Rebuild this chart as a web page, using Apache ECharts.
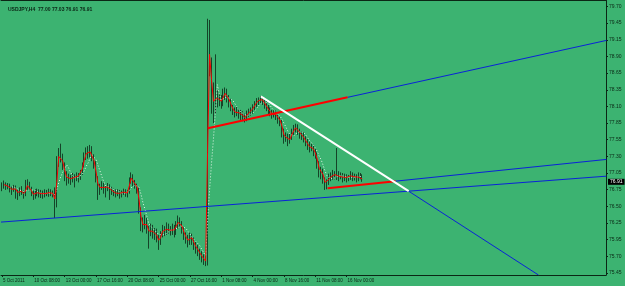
<!DOCTYPE html>
<html><head><meta charset="utf-8">
<script src="https://cdn.jsdelivr.net/npm/echarts@6/dist/echarts.min.js"></script>
<style>html,body{margin:0;padding:0;background:#3cb371;}#c{width:625px;height:286px;}</style>
</head><body><div id="c"></div>
<script>
// ---- data ----
const symbolTitle = "USDJPY,H4";
const barCount = 309; // bar slots across the chart (incl. empty future space)
const xTickLabels = ["5 Oct 2011","10 Oct 08:00","13 Oct 00:00","17 Oct 16:00","20 Oct 08:00","25 Oct 00:00","27 Oct 16:00","1 Nov 08:00","4 Nov 00:00","8 Nov 16:00","11 Nov 08:00","16 Nov 00:00"];
const xTickEvery = 16;
const yTickValues = [75.45,75.717,75.983,76.25,76.517,76.783,77.05,77.317,77.583,77.85,78.117,78.383,78.65,78.917,79.183,79.45,79.717];
const yTickLabels = ["75.45","75.70","75.95","76.25","76.50","76.75","77.05","77.30","77.55","77.85","78.10","78.35","78.65","78.90","79.15","79.45","79.70"];
// [open, close, low, high]
const ohlc = [
[76.82,76.85,76.76,76.90],[76.85,76.88,76.80,76.93],[76.88,76.82,76.78,76.90],[76.82,76.86,76.79,76.89],[76.86,76.80,76.74,76.88],
[76.80,76.78,76.70,76.84],[76.78,76.83,76.75,76.86],[76.83,76.76,76.64,76.85],[76.76,76.72,76.62,76.79],[76.72,76.78,76.68,76.82],
[76.78,76.74,76.70,76.84],[76.74,76.70,76.64,76.77],[76.70,76.82,76.68,76.94],[76.82,76.88,76.78,76.95],[76.88,76.80,76.76,76.91],
[76.80,76.74,76.68,76.83],[76.74,76.68,76.62,76.77],[76.68,76.72,76.64,76.79],[76.72,76.75,76.68,76.80],[76.75,76.71,76.66,76.79],
[76.71,76.73,76.65,76.78],[76.73,76.70,76.64,76.77],[76.70,76.74,76.66,76.79],[76.74,76.72,76.68,76.78],[76.72,76.75,76.67,76.80],
[76.75,76.73,76.68,76.79],[76.73,76.72,76.66,76.77],[76.72,76.55,76.33,76.82],[76.55,77.25,76.50,77.32],[77.25,77.38,77.15,77.45],
[77.38,77.30,77.22,77.52],[77.30,77.18,77.10,77.36],[77.18,77.02,76.92,77.22],[77.02,76.95,76.85,77.08],[76.95,76.98,76.88,77.04],
[76.98,76.94,76.86,77.02],[76.94,77.00,76.90,77.05],[77.00,76.96,76.82,77.03],[76.96,77.02,76.92,77.06],[77.02,76.98,76.90,77.05],
[76.98,77.05,76.94,77.10],[77.05,77.18,77.02,77.22],[77.18,77.32,77.14,77.38],[77.32,77.40,77.26,77.46],[77.40,77.34,77.28,77.48],
[77.34,77.44,77.30,77.50],[77.44,77.30,77.24,77.48],[77.30,77.20,77.12,77.35],[77.20,76.96,76.90,77.24],[76.96,76.80,76.62,77.00],
[76.80,76.84,76.70,76.88],[76.84,76.86,76.78,76.92],[76.86,76.78,76.72,76.90],[76.78,76.81,76.66,76.86],[76.81,76.84,76.76,76.89],
[76.84,76.79,76.62,76.87],[76.79,76.76,76.70,76.83],[76.76,76.74,76.68,76.80],[76.74,76.72,76.66,76.79],[76.72,76.75,76.68,76.79],
[76.75,76.70,76.64,76.78],[76.70,76.73,76.66,76.77],[76.73,76.76,76.70,76.80],[76.76,76.72,76.67,76.79],[76.72,76.74,76.66,76.78],
[76.74,76.94,76.72,76.98],[76.94,77.00,76.88,77.06],[77.00,76.90,76.84,77.03],[76.90,76.85,76.80,76.94],[76.85,76.80,76.72,76.88],
[76.80,76.45,76.40,76.82],[76.45,76.25,76.12,76.50],[76.25,76.20,76.10,76.34],[76.20,76.30,76.15,76.38],[76.30,76.15,76.08,76.33],
[76.15,76.10,75.84,76.20],[76.10,76.18,76.04,76.24],[76.18,76.05,76.00,76.22],[76.05,76.12,75.98,76.17],[76.12,76.00,75.94,76.16],
[76.00,75.95,75.82,76.06],[75.95,76.08,75.90,76.12],[76.08,76.15,76.02,76.22],[76.15,76.10,76.04,76.20],[76.10,76.20,76.06,76.26],
[76.20,76.15,76.08,76.24],[76.15,76.12,76.05,76.20],[76.12,76.18,76.06,76.24],[76.18,76.10,76.02,76.22],[76.10,76.22,76.06,76.28],
[76.22,76.30,76.16,76.37],[76.30,76.25,76.18,76.34],[76.25,76.15,76.08,76.28],[76.15,76.05,75.98,76.18],[76.05,76.00,75.92,76.10],
[76.00,75.95,75.86,76.06],[75.95,76.05,75.90,76.10],[76.05,75.98,75.90,76.08],[75.98,75.90,75.82,76.02],[75.90,75.85,75.76,75.95],
[75.85,75.80,75.72,75.90],[75.80,75.75,75.66,75.84],[75.75,75.70,75.62,75.80],[75.70,75.66,75.58,75.75],[75.66,75.62,75.56,75.72],
[75.62,79.15,75.57,79.52],[79.15,78.75,78.60,79.50],[78.75,78.35,78.00,78.90],[78.35,78.05,77.85,78.50],[78.05,78.30,78.00,78.95],
[78.30,78.20,78.10,78.38],[78.20,78.25,78.12,78.32],[78.25,78.15,78.08,78.30],[78.15,78.30,78.12,78.40],[78.30,78.35,78.22,78.42],
[78.35,78.25,78.18,78.40],[78.25,78.20,78.10,78.30],[78.20,78.10,78.04,78.24],[78.10,78.05,77.98,78.14],[78.05,78.00,77.94,78.10],
[78.00,78.05,77.96,78.12],[78.05,77.98,77.92,78.08],[77.98,78.00,77.90,78.06],[78.00,77.95,77.88,78.04],[77.95,77.92,77.86,78.00],
[77.92,78.00,77.88,78.05],[78.00,78.02,77.95,78.08],[78.02,78.05,77.97,78.10],[78.05,78.10,78.00,78.15],[78.10,78.15,78.05,78.20],
[78.15,78.20,78.10,78.25],[78.20,78.22,78.14,78.26],[78.22,78.25,78.16,78.28],[78.25,78.20,78.14,78.27],[78.20,78.15,78.08,78.24],
[78.15,78.10,78.04,78.20],[78.10,78.05,77.98,78.14],[78.05,78.02,77.96,78.10],[78.02,77.98,77.92,78.06],[77.98,78.02,77.94,78.06],
[78.02,77.95,77.90,78.05],[77.95,77.92,77.84,77.98],[77.92,77.88,77.80,77.95],[77.88,77.72,77.62,77.90],[77.72,77.60,77.52,77.76],
[77.60,77.65,77.55,77.70],[77.65,77.55,77.48,77.68],[77.55,77.62,77.52,77.68],[77.62,77.70,77.58,77.76],[77.70,77.75,77.65,77.82],
[77.75,77.80,77.70,77.84],[77.80,77.72,77.66,77.83],[77.72,77.68,77.60,77.76],[77.68,77.65,77.58,77.72],[77.65,77.60,77.54,77.70],
[77.60,77.55,77.48,77.64],[77.55,77.50,77.42,77.60],[77.50,77.45,77.38,77.55],[77.45,77.48,77.40,77.52],[77.48,77.40,77.32,77.50],
[77.40,77.35,77.28,77.44],[77.35,77.20,77.12,77.38],[77.20,77.05,76.98,77.24],[77.05,77.10,76.95,77.15],[77.10,76.95,76.88,77.12],
[76.95,76.85,76.78,76.98],[76.85,76.90,76.79,76.95],[76.90,77.00,76.86,77.04],[77.00,76.98,76.92,77.06],[76.98,77.05,76.94,77.10],
[77.05,77.00,76.95,77.08],[77.00,77.02,76.94,77.45],[77.02,76.98,76.92,77.08],[76.98,77.02,76.95,77.06],[77.02,76.95,76.90,77.05],
[76.95,77.00,76.92,77.04],[77.00,76.96,76.90,77.03],[76.96,76.98,76.92,77.02],[76.98,77.03,76.94,77.08],[77.03,76.98,76.92,77.06],
[76.98,77.00,76.93,77.04],[77.00,76.95,76.90,77.03],[76.95,77.02,76.92,77.06],[77.02,77.00,76.95,77.05],[77.00,76.91,76.91,77.03]
];
const fastMaPeriod = 2;
const slowMaPeriod = 6;
// trend lines: [barIndex, price] endpoints
const redUpper = [[105.1,77.767],[176.5,78.262]];
const blueUpper = [[176.5,78.262],[308.7,79.173]];
const redLower = [[166.3,76.808],[201.0,76.920]];
const blueLower = [[201.0,76.920],[308.7,77.268]];
const blueLong = [[-0.5,76.265],[308.7,77.000]];
const whiteDown = [[132.2,78.278],[207.7,76.760]];
const blueDown = [[207.7,76.760],[274.0,75.418]];

// ---- build ----
const categories = Array.from({length: barCount}, (_, i) =>
  (i % xTickEvery === 0 && xTickLabels[i / xTickEvery] !== undefined) ? xTickLabels[i / xTickEvery] : '');
const closes = ohlc.map(r => r[1]);
function sma(n) {
  return closes.map((c, i) => {
    if (i < n - 1) return '-';
    let s = 0; for (let k = i - n + 1; k <= i; k++) s += closes[k];
    return +(s / n).toFixed(4);
  });
}
const last = ohlc[ohlc.length - 1];
const titleText = symbolTitle + "  " + [last[0], last[3], last[2], last[1]].map(v => v.toFixed(2)).join(' ');

const dark = '#0b2615';
const font = 'Liberation Sans';
function tline(data, color, width, type) {
  return {type: 'line', xAxisIndex: 1, yAxisIndex: 0, data, symbol: 'none', silent: true,
    lineStyle: {color, width, type: type || 'solid'}, z: 5, animation: false};
}

const chart = echarts.init(document.getElementById('c'), null, {renderer: 'canvas'});
chart.setOption({
  backgroundColor: '#3cb371',
  animation: false,
  title: {text: titleText, left: 3, top: 2, textStyle: {fontFamily: font, fontSize: 5, fontWeight: 'bold', color: dark}},
  grid: {left: 0, right: 19, top: 0.5, bottom: 11, containLabel: false},
  xAxis: [{
    type: 'category', data: categories, boundaryGap: true, position: 'bottom',
    axisLine: {show: true, lineStyle: {color: dark, width: 1}},
    axisTick: {show: true, alignWithLabel: true, length: 2, interval: (i, v) => v !== '', lineStyle: {color: dark}},
    axisLabel: {show: true, interval: (i, v) => v !== '', align: 'left', margin: 3, fontFamily: font, fontSize: 4.5, color: dark, padding: [0,0,0,1]},
    splitLine: {show: false}
  }, {
    type: 'value', min: -0.5, max: barCount - 0.5, position: 'top',
    axisLine: {show: true, onZero: false, lineStyle: {color: dark, width: 1}},
    axisTick: {show: false}, axisLabel: {show: false}, splitLine: {show: false}
  }],
  yAxis: [{
    type: 'value', position: 'right', min: 75.418, max: 79.812, scale: true,
    axisLine: {show: true, onZero: false, lineStyle: {color: dark, width: 1}},
    axisTick: {show: true, length: 2, inside: false, customValues: yTickValues, lineStyle: {color: dark}},
    axisLabel: {show: true, customValues: yTickValues, margin: 3, fontFamily: font, fontSize: 5, color: dark,
      formatter: v => { const k = yTickValues.findIndex(t => Math.abs(t - v) < 1e-6); return k >= 0 ? yTickLabels[k] : ''; }},
    splitLine: {show: false}
  }],
  series: [
    {type: 'candlestick', name: 'price', data: ohlc, barWidth: 1.2, xAxisIndex: 0,
      itemStyle: {color: '#6f8a78', color0: '#0b2615', borderColor: '#0b2615', borderColor0: '#0b2615', borderWidth: 0.8},
      markLine: {symbol: 'none', silent: true, animation: false, z: 20,
        data: [{yAxis: last[1]}],
        lineStyle: {color: 'rgba(0,0,0,0)', width: 0, type: 'solid'},
        label: {show: true, position: 'end', formatter: last[1].toFixed(2), backgroundColor: '#000000', color: '#ffffff', opacity: 1,
          fontFamily: font, fontSize: 5, padding: [1, 2, 0, 2], distance: 2}}},
    {type: 'line', name: 'ma slow', data: sma(slowMaPeriod), symbol: 'none', silent: true, xAxisIndex: 0,
      lineStyle: {color: '#e6f7ea', width: 1, type: [1, 2]}, z: 3},
    {type: 'line', name: 'ma fast', data: sma(fastMaPeriod), symbol: 'none', silent: true, xAxisIndex: 0,
      lineStyle: {color: '#ff0000', width: 1}, z: 4},
    tline(blueLong, '#0a22d8', 1),
    tline(blueUpper, '#0a22d8', 1),
    tline(blueLower, '#0a22d8', 1),
    tline(blueDown, '#0a22d8', 1),
    tline(redUpper, '#ff0000', 2),
    tline(redLower, '#ff0000', 2),
    tline(whiteDown, '#ffffff', 2)
  ]
});
</script>
</body></html>
